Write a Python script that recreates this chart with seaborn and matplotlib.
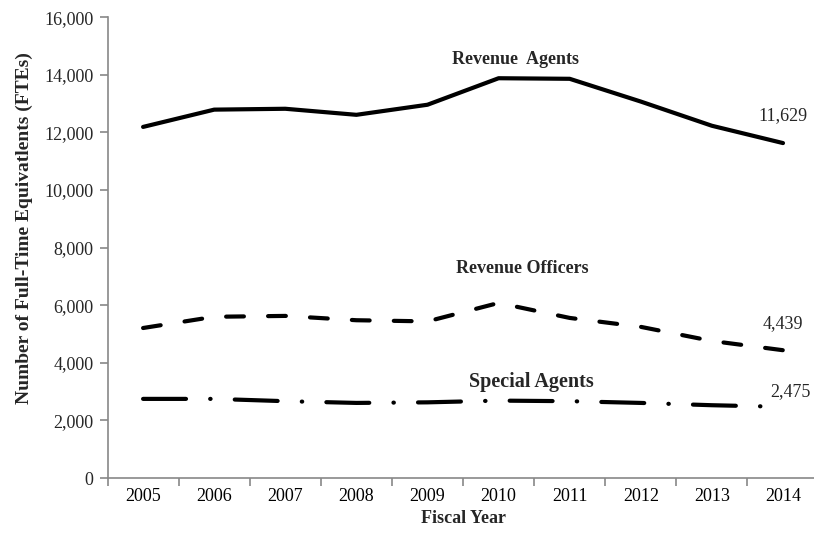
import numpy as np
import pandas as pd
import seaborn as sns
import matplotlib.pyplot as plt
from matplotlib.ticker import FuncFormatter, FixedLocator

years = ['2005', '2006', '2007', '2008', '2009', '2010', '2011', '2012', '2013', '2014']
revenue_agents = [12190, 12790, 12820, 12610, 12960, 13880, 13860, 13070, 12230, 11629]
revenue_officers = [5210, 5600, 5630, 5480, 5440, 6080, 5560, 5250, 4760, 4439]
special_agents = [2750, 2750, 2670, 2610, 2630, 2690, 2670, 2610, 2530, 2475]

series_names = ['Revenue Agents', 'Revenue Officers', 'Special Agents']
df = pd.DataFrame({
    'idx': list(range(len(years))) * 3,
    'value': revenue_agents + revenue_officers + special_agents,
    'series': np.repeat(series_names, len(years)),
})

sns.set_style('white')
plt.rcParams['font.family'] = ['Liberation Serif', 'DejaVu Serif']

fig = plt.figure(figsize=(8.14, 5.36), dpi=100)
ax = fig.add_axes([0.1321, 0.108, 0.8735, 0.860])

lw = 3.0
sns.lineplot(data=df, x='idx', y='value', style='series', ax=ax,
             color='black', linewidth=lw, legend=False, sort=False,
             dashes={'Revenue Agents': '',
                     'Revenue Officers': (4.27, 5.8),
                     'Special Agents': (10.3, 5.8, 0.1, 5.8)})
for ln in ax.get_lines():
    ln.set_solid_capstyle('round')
    ln.set_dash_capstyle('round')
    ln.set_solid_joinstyle('round')
    ln.set_dash_joinstyle('round')

ax.set_xlim(-0.5, len(years) - 0.5)
ax.set_ylim(0, 16000)
ax.set_yticks(np.arange(0, 16001, 2000))
ax.yaxis.set_major_formatter(FuncFormatter(lambda v, p: f'{int(v):,}'))
ax.set_xticks(range(len(years)))
ax.set_xticklabels(years)
ax.xaxis.set_minor_locator(FixedLocator(np.arange(-0.5, len(years), 1.0)))
ax.tick_params(axis='x', which='major', length=0, labelsize=13, pad=7, colors='black', bottom=False)
ax.tick_params(axis='x', which='minor', length=6, width=1.2, color='#888888', direction='out', bottom=True)
ax.tick_params(axis='y', length=6, width=1.2, color='#888888', labelsize=13, pad=4, direction='out', left=True)

for s in ['top', 'right']:
    ax.spines[s].set_visible(False)
for s in ['left', 'bottom']:
    ax.spines[s].set_color('#888888')
    ax.spines[s].set_linewidth(1.2)

ax.set_xlabel('Fiscal Year', fontsize=13, fontweight='bold', labelpad=4)
ax.set_ylabel('Number of Full-Time Equivatlents (FTEs)', fontsize=14, fontweight='bold')
ax.yaxis.set_label_coords(-0.105, 0.542)

ax.text(5.24, 14520, 'Revenue  Agents', ha='center', va='center', fontsize=13, fontweight='bold')
ax.text(5.33, 7290, 'Revenue Officers', ha='center', va='center', fontsize=13, fontweight='bold')
ax.text(5.46, 3330, 'Special Agents', ha='center', va='center', fontsize=14.5, fontweight='bold')
ax.text(9.0, 12600, f'{revenue_agents[-1]:,}', ha='center', va='center', fontsize=13)
ax.text(9.0, 5380, f'{revenue_officers[-1]:,}', ha='center', va='center', fontsize=13)
ax.text(9.1, 2990, f'{special_agents[-1]:,}', ha='center', va='center', fontsize=13)

fig.savefig('out.png', dpi=100)
